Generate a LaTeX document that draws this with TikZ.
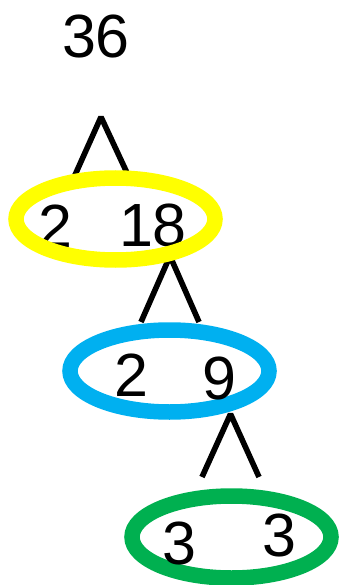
\documentclass[tikz,border=0pt]{standalone}
\usepackage{fontspec}
\setmainfont{Liberation Sans}
\definecolor{ringyellow}{HTML}{FFFF00}
\definecolor{ringblue}{HTML}{00B0F0}
\definecolor{ringgreen}{HTML}{00B050}
\tikzset{
  num/.style={inner sep=0pt, font=\fontsize{61}{61}\selectfont},
  branch/.style={line width=5.6pt, line join=bevel},
  ring/.style={line width=15.5pt}
}

\begin{document}
\begin{tikzpicture}[x=1pt, y=-1pt]
  \useasboundingbox (0,0) rectangle (339,585);
  \coordinate (T1) at (101, 117);  % first split
  \coordinate (L1) at (75, 175);
  \coordinate (R1) at (128, 175);
  \coordinate (T2) at (170, 256);
  \coordinate (L2) at (141, 322);
  \coordinate (R2) at (199, 322);
  \coordinate (T3) at (230.5, 414);
  \coordinate (L3) at (202, 477);
  \coordinate (R3) at (259, 477);
  \draw[branch] (L1) -- (T1) -- (R1);
  \draw[branch] (L2) -- (T2) -- (R2);
  \draw[branch] (L3) -- (T3) -- (R3);

  \draw[ring, ringblue] (169.5, 371) ellipse [x radius=99.5, y radius=41];
  \draw[ring, ringgreen] (231.5, 537) ellipse [x radius=99.5, y radius=41];

  \node[num] (n36) at (96, 37) {36};
  \node[num] (a2) at (55, 226) {2};
  \node[num] (a18) at (153, 226) {18};
  \node[num] (b2) at (131, 375) {2};
  \node[num] (b9) at (219, 378) {9};
  \node[num] (c3) at (179, 543) {3};
  \node[num] (d3) at (279, 535) {3};

  % yellow ring lies over its digits
  \draw[ring, ringyellow] (115.5, 219) ellipse [x radius=99.5, y radius=41];
\end{tikzpicture}
\end{document}
